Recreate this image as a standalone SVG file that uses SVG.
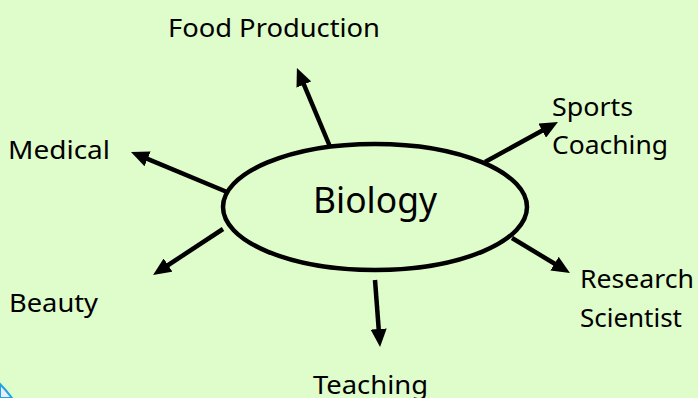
<svg xmlns="http://www.w3.org/2000/svg" width="698" height="398" viewBox="0 0 698 398">
<style>
.lbl{font-family:"Noto Sans","Open Sans",sans-serif;font-size:26px;fill:#000}
.big{font-family:"Noto Sans","Open Sans",sans-serif;font-size:36px;fill:#000}
.con{stroke:#000;stroke-width:4.5;fill:none;marker-end:url(#ah)}
</style>
<defs>
<marker id="ah" markerUnits="userSpaceOnUse" markerWidth="18" markerHeight="16" viewBox="0 0 18 16" refX="8" refY="8" orient="auto">
<path d="M0,0 L18,8 L0,16 z" fill="#000"/>
</marker>
</defs>
<rect x="0" y="0" width="698" height="398" fill="#DFFCCB"/>
<path d="M0,384 Q6,390 12,398 L0,398 Z" fill="#ECEBF7" stroke="#1CA3E3" stroke-width="2"/>
<g id="connectors">
<line class="con" x1="331" y1="149" x2="300.8" y2="77.2"/>
<line class="con" x1="485" y1="162" x2="549.2" y2="126.8"/>
<line class="con" x1="512" y1="238" x2="561.4" y2="267.8"/>
<line class="con" x1="375" y1="280" x2="379.3" y2="337"/>
<line class="con" x1="227" y1="192" x2="140.2" y2="155.8"/>
<line class="con" x1="223" y1="229" x2="161.4" y2="269.5"/>
</g>
<g id="biology">
<ellipse cx="375" cy="207" rx="152" ry="63" fill="#DFFCCB" stroke="#000" stroke-width="4.5"/>
<text class="big" x="313" y="213" textLength="124" lengthAdjust="spacingAndGlyphs">Biology</text>
</g>
<g id="food"><text class="lbl" x="168" y="37" textLength="212" lengthAdjust="spacingAndGlyphs">Food Production</text></g>
<g id="sports">
<text class="lbl" x="552" y="116" textLength="81" lengthAdjust="spacingAndGlyphs">Sports</text>
<text class="lbl" x="552" y="154" textLength="116" lengthAdjust="spacingAndGlyphs">Coaching</text>
</g>
<g id="research">
<text class="lbl" x="580" y="288" textLength="114" lengthAdjust="spacingAndGlyphs">Research</text>
<text class="lbl" x="580" y="327" textLength="102" lengthAdjust="spacingAndGlyphs">Scientist</text>
</g>
<g id="teaching"><text class="lbl" x="313" y="394" textLength="115" lengthAdjust="spacingAndGlyphs">Teaching</text></g>
<g id="medical"><text class="lbl" x="8" y="159" textLength="102" lengthAdjust="spacingAndGlyphs">Medical</text></g>
<g id="beauty"><text class="lbl" x="9" y="312" textLength="89" lengthAdjust="spacingAndGlyphs">Beauty</text></g>
</svg>
